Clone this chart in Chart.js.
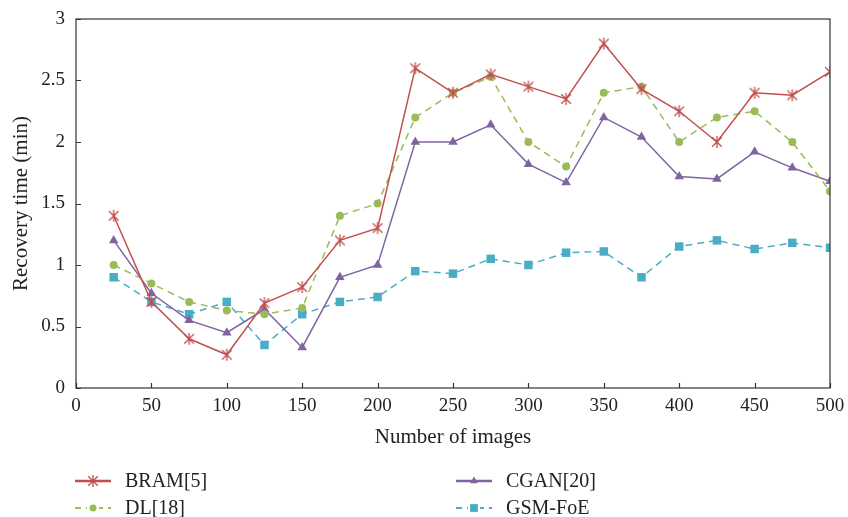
<!DOCTYPE html>
<html>
<head>
<meta charset="utf-8">
<script src="https://cdn.jsdelivr.net/npm/chart.js@4.4.1/dist/chart.umd.min.js"></script>
<style>
html,body{margin:0;padding:0;background:#fff;}
#wrap{width:848px;height:517px;position:relative;}
</style>
</head>
<body>
<div id="wrap"><canvas id="c" width="848" height="517"></canvas></div>
<script>
const imageCounts = [25,50,75,100,125,150,175,200,225,250,275,300,325,350,375,400,425,450,475,500];
const bram = [1.4,0.7,0.4,0.27,0.69,0.82,1.2,1.3,2.6,2.4,2.55,2.45,2.35,2.8,2.43,2.25,2.0,2.4,2.38,2.57];
const dl   = [1.0,0.85,0.7,0.63,0.6,0.65,1.4,1.5,2.2,2.4,2.53,2.0,1.8,2.4,2.45,2.0,2.2,2.25,2.0,1.6];
const cgan = [1.2,0.77,0.55,0.45,0.64,0.33,0.9,1.0,2.0,2.0,2.14,1.82,1.67,2.2,2.04,1.72,1.7,1.92,1.79,1.68];
const gsm  = [0.9,0.7,0.6,0.7,0.35,0.6,0.7,0.74,0.95,0.93,1.05,1.0,1.1,1.11,0.9,1.15,1.2,1.13,1.18,1.14];
const seriesNames = ['BRAM[5]','DL[18]','CGAN[20]','GSM-FoE'];
const yTickLabels = ['0','0.5','1','1.5','2','2.5','3'];

const RED='#c0504d', GREEN='#9bbb59', PURPLE='#8064a2', BLUE='#4bacc6';
const FONT='"Liberation Serif", "DejaVu Serif", serif';

function asterisk(color, size){
  const c=document.createElement('canvas'); c.width=size; c.height=size;
  const g=c.getContext('2d'); g.strokeStyle=color; g.lineWidth=1.3;
  const m=size/2, r=size/2-1;
  g.beginPath();
  g.moveTo(m-r*0.8,m-r*0.8); g.lineTo(m+r*0.8,m+r*0.8);
  g.moveTo(m+r*0.8,m-r*0.8); g.lineTo(m-r*0.8,m+r*0.8);
  g.moveTo(m,m-r); g.lineTo(m,m+r);
  g.stroke();
  return c;
}
const starImg = asterisk(RED, 14);

function pts(arr){ return arr.map((v,i)=>({x:imageCounts[i], y:v})); }

const datasets = [
  {label:seriesNames[0], data:pts(bram), borderColor:RED, backgroundColor:RED, borderWidth:1.5, pointStyle:starImg, pointRadius:6, dash:[]},
  {label:seriesNames[1], data:pts(dl), borderColor:GREEN, backgroundColor:GREEN, borderWidth:1.5, borderDash:[7,5], pointStyle:'circle', pointRadius:4, pointBorderWidth:0, dash:[7,5]},
  {label:seriesNames[2], data:pts(cgan), borderColor:PURPLE, backgroundColor:PURPLE, borderWidth:1.5, pointStyle:'triangle', pointRadius:5.5, pointBorderWidth:0, dash:[]},
  {label:seriesNames[3], data:pts(gsm), borderColor:BLUE, backgroundColor:BLUE, borderWidth:1.5, borderDash:[7,5], pointStyle:'rect', pointRadius:6, pointBorderWidth:0, dash:[7,5]}
];

const framePlugin = {
  id:'frame',
  afterDatasetsDraw(chart){
    const {ctx, chartArea:a, scales:{x,y}} = chart;
    ctx.save();
    ctx.strokeStyle='#333'; ctx.lineWidth=1.2;
    ctx.strokeRect(a.left, a.top, a.right-a.left, a.bottom-a.top);
    ctx.beginPath();
    x.ticks.forEach(t=>{ const px=Math.round(x.getPixelForValue(t.value))+0.5; ctx.moveTo(px,a.bottom); ctx.lineTo(px,a.bottom-5); });
    y.ticks.forEach(t=>{ const py=Math.round(y.getPixelForValue(t.value))+0.5; ctx.moveTo(a.left,py); ctx.lineTo(a.left+5,py); });
    ctx.stroke();
    ctx.restore();
  }
};

const legendPlugin = {
  id:'customLegend',
  afterDraw(chart){
    const ctx=chart.ctx;
    const slots=[{x:75,y:481},{x:75,y:508},{x:456,y:481},{x:456,y:508}];
    chart.data.datasets.forEach((ds,i)=>{
      const s=slots[i];
      ctx.save();
      ctx.strokeStyle=ds.borderColor; ctx.lineWidth= ds.dash.length? 2 : 2.5;
      ctx.setLineDash(ds.dash.length? [6,5] : []);
      ctx.beginPath(); ctx.moveTo(s.x, s.y); ctx.lineTo(s.x+36, s.y); ctx.stroke();
      ctx.setLineDash([]);
      const cx=s.x+18;
      ctx.fillStyle='#fff';
      if(ds.dash.length){ ctx.fillRect(cx-6,s.y-2,12,4); }
      ctx.fillStyle=ds.backgroundColor;
      Chart.helpers.drawPoint(ctx,{pointStyle:ds.pointStyle, radius: ds.pointStyle==='circle'?3.5:(ds.pointStyle==='rect'?5.5:4.5), borderWidth:0, rotation:0}, cx, s.y);
      ctx.fillStyle='#222';
      ctx.font='20px '+FONT;
      ctx.textBaseline='middle'; ctx.textAlign='left';
      ctx.fillText(ds.label, s.x+50, s.y+1);
      ctx.restore();
    });
  }
};

new Chart(document.getElementById('c'), {
  type:'line',
  data:{datasets},
  options:{
    responsive:false, animation:false,
    layout:{padding:{left:0, right:18, top:19, bottom:67}},
    plugins:{legend:{display:false}, tooltip:{enabled:false}},
    scales:{
      x:{
        type:'linear', min:0, max:500,
        grid:{display:false, drawTicks:false},
        border:{display:false},
        afterFit(s){ s.height=62; s.paddingLeft=0; s.paddingRight=0; },
        ticks:{stepSize:50, color:'#222', font:{family:FONT, size:19}, padding:7, maxRotation:0},
        title:{display:true, text:'Number of images', color:'#222', font:{family:FONT, size:21}, padding:{top:0,bottom:0}}
      },
      y:{
        type:'linear', min:0, max:3,
        grid:{display:false, drawTicks:false},
        border:{display:false},
        afterFit(s){ s.width=76; s.paddingTop=0; s.paddingBottom=0; },
        ticks:{stepSize:0.5, color:'#222', font:{family:FONT, size:19}, padding:11,
               callback:(v)=>yTickLabels[Math.round(v*2)]},
        title:{display:true, text:'Recovery time (min)', color:'#222', font:{family:FONT, size:21}, padding:{top:9,bottom:0}}
      }
    }
  },
  plugins:[framePlugin, legendPlugin]
});
</script>
</body>
</html>
